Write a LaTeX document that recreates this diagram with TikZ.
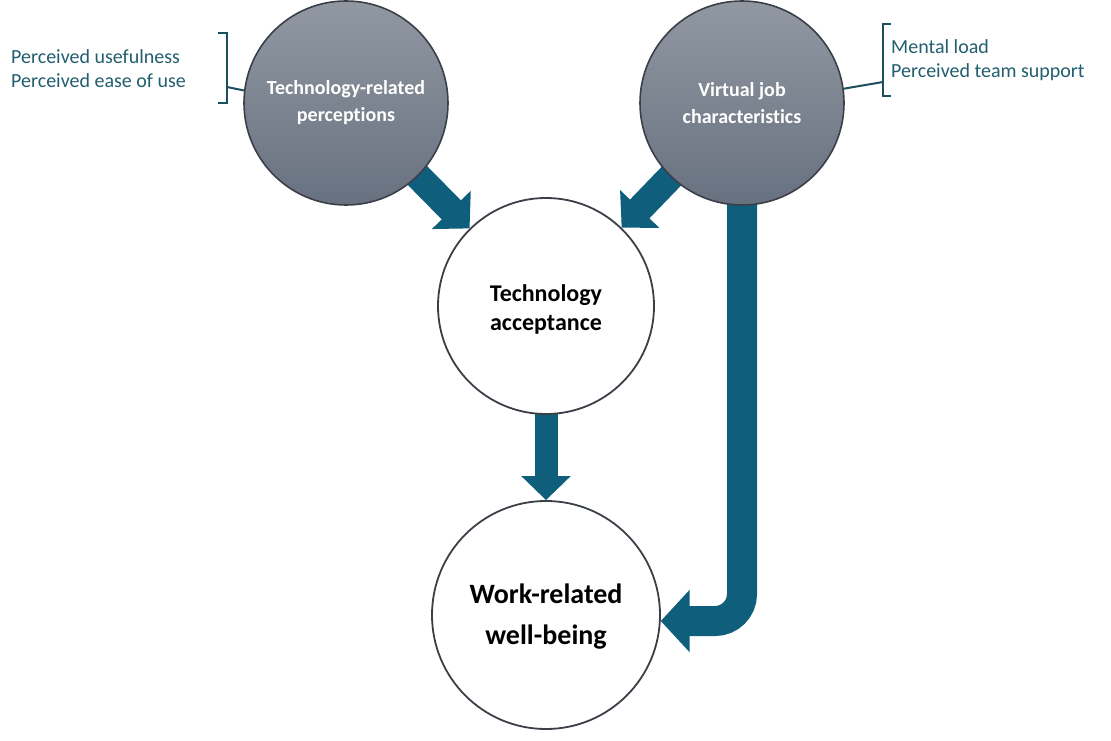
\documentclass[tikz,border=0pt]{standalone}
\usepackage{fontspec}
\setmainfont{Carlito}[Ligatures=NoCommon]
\usetikzlibrary{arrows.meta}
\definecolor{arrowc}{HTML}{0F5E7B}
\definecolor{annot}{HTML}{215E6E}
\definecolor{brkc}{HTML}{1C4F5E}
\definecolor{gtop}{HTML}{9198A2}
\definecolor{gbot}{HTML}{687180}
\definecolor{rim}{HTML}{3B4048}
\pgfdeclarelayer{bg}
\pgfsetlayers{bg,main}
\tikzset{
  graycirc/.style={circle, draw=rim, line width=1.6pt, top color=gtop, bottom color=gbot,
    minimum size=204pt, inner sep=0pt, text=white, align=center,
    font=\fontsize{20}{27}\selectfont\bfseries},
  whitecirc/.style={circle, draw=rim, line width=1.8pt, fill=white, inner sep=0pt,
    align=center, text=black},
  annotext/.style={text=annot, align=left, inner sep=0pt,
    font=\fontsize{20}{24}\selectfont},
  brk/.style={draw=brkc, line width=2pt},
  blockarrow/.style={draw=arrowc, arrowc},
}
\begin{document}
\begin{tikzpicture}[x=1pt,y=-1pt]
\useasboundingbox (0,0) rectangle (1111,741);

\node[graycirc] (tp) at (346,103) {Technology-related\\perceptions};
\node[graycirc] (vc) at (742,103) {Virtual job\\characteristics};
\node[whitecirc, minimum size=216pt, font=\fontsize{24}{29}\selectfont\bfseries] (ta) at (546,306) {};
\node[font=\fontsize{24}{29}\selectfont\bfseries, align=center, inner sep=0pt] (tatext) at (546,309) {Technology\\acceptance};
\node[whitecirc, minimum size=228pt] (wb) at (546,615) {};
\node[font=\fontsize{28}{41}\selectfont\bfseries, align=center, inner sep=0pt] (wbtext) at (546,617) {Work-related\\well-being};

\node[annotext, anchor=west] (la) at (11,69) {Perceived usefulness\\Perceived ease of use};
\node[annotext, anchor=west] (ra) at (891,60) {Mental load\\Perceived team support};

\begin{pgfonlayer}{bg}
\draw[blockarrow, line width=27pt, -{Triangle[width=53pt,length=26pt]}] (tp.center) -- (ta);
\draw[blockarrow, line width=27pt, -{Triangle[width=53pt,length=26pt]}] (vc.center) -- (ta);
\draw[blockarrow, line width=23pt, -{Triangle[width=48pt,length=24pt]}] (ta.center) -- (wb);
\draw[blockarrow, line width=30pt, rounded corners=27pt, -{Triangle[width=61pt,length=29pt]}] (vc.center) |- (wb.-3.5);
\end{pgfonlayer}

\coordinate (lbt) at (218,33);
\coordinate (lbb) at (218,103);
\coordinate (lbj) at (227,87);
\draw[brk] (lbt) -- (227,33) -- (227,103) -- (lbb);
\draw[brk] (lbj) -- (tp.173);

\coordinate (rbt) at (891,24);
\coordinate (rbb) at (891,96);
\coordinate (rbj) at (883,82);
\draw[brk] (rbt) -- (883,24) -- (883,96) -- (rbb);
\draw[brk] (rbj) -- (vc.8);
\end{tikzpicture}
\end{document}
